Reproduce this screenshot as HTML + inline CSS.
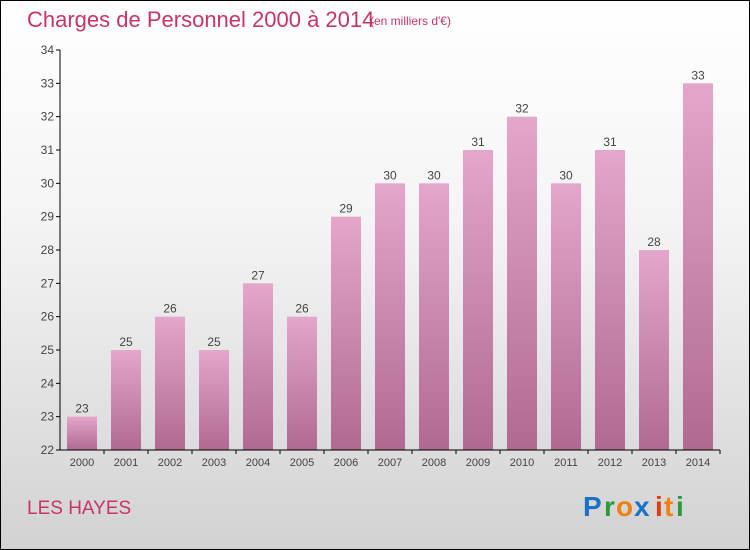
<!DOCTYPE html>
<html><head><meta charset="utf-8"><style>
body{margin:0;}
#c{width:748px;height:548px;border:1px solid #000;background:linear-gradient(#ffffff,#f4f4f4 40%,#d2d2d2);position:relative;font-family:"Liberation Sans",sans-serif;overflow:hidden}
</style></head><body>
<div id="c">
<svg width="750" height="550" style="position:absolute;left:-1px;top:-1px">
<defs><linearGradient id="bg" x1="0" y1="0" x2="0" y2="1"><stop offset="0" stop-color="#e4a6cb"/><stop offset="1" stop-color="#b06a92"/></linearGradient></defs>
<text x="27" y="27" font-size="22" fill="#c8336b">Charges de Personnel 2000 à 2014</text>
<text x="370" y="25" font-size="12" fill="#c8336b">(en milliers d'€)</text>
<g id="g"></g>
<text x="27" y="514" font-size="19" fill="#c8336b">LES HAYES</text>
<g font-size="28" font-weight="bold">
<text x="583" y="516" fill="#1a72c8">P</text><text x="604" y="516" fill="#2a9a3a">r</text><text x="616" y="516" fill="#f08010">o</text><text x="634" y="516" fill="#1a72c8">x</text><text x="655" y="516" fill="#e03a10">i</text><text x="664" y="516" fill="#f08010">t</text><text x="676" y="516" fill="#2a9a3a">i</text></g>
</svg>
<script>
const years=["2000","2001","2002","2003","2004","2005","2006","2007","2008","2009","2010","2011","2012","2013","2014"];
const values=[23,25,26,25,27,26,29,30,30,31,32,30,31,28,33];
const ticks=[22,23,24,25,26,27,28,29,30,31,32,33,34];
const NS="http://www.w3.org/2000/svg",g=document.getElementById('g');
const y=v=>450-(v-22)*(400/12), x=i=>60+44*i+22;
function el(t,a){const e=document.createElementNS(NS,t);for(const k in a)e.setAttribute(k,a[k]);g.appendChild(e);return e;}
for(const t of ticks){
const l=el('line',{x1:56,x2:60,y1:y(t),y2:y(t),stroke:'#000'});


const tx=el('text',{x:54,y:y(t)+4,'font-size':12,fill:'#444','text-anchor':'end'});tx.textContent=t;


}
values.forEach((v,i)=>{
const r=el('rect',{x:x(i)-15,y:y(v),width:30,height:450-y(v),fill:'url(#bg)'});


const t=el('text',{x:x(i),y:y(v)-4,'font-size':12,fill:'#444','text-anchor':'middle'});t.textContent=v;


const xl=el('text',{x:x(i),y:466,'font-size':11,fill:'#444','text-anchor':'middle'});xl.textContent=years[i];


const tk=el('line',{x1:x(i)+22,x2:x(i)+22,y1:450,y2:454,stroke:'#000'});


});
const ya=el('line',{x1:60,x2:60,y1:y(34),y2:450,stroke:'#000'});


const xa=el('line',{x1:60,x2:720,y1:450,y2:450,stroke:'#000'});


</script>
</div></body></html>
